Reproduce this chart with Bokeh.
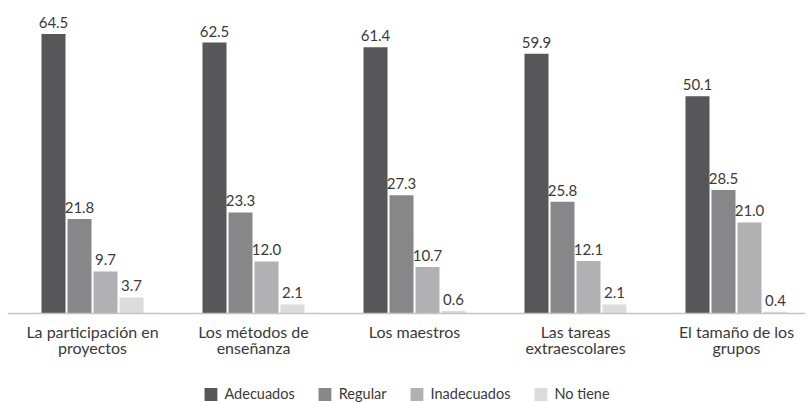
from bokeh.plotting import figure
from bokeh.models import Range1d, FixedTicker, Legend, LegendItem, ColumnDataSource, LinearAxis
from bokeh.core.properties import value
from bokeh.embed import file_html
from bokeh.resources import INLINE

categories = ["La participación en\nproyectos", "Los métodos de\nenseñanza", "Los maestros",
              "Las tareas\nextraescolares", "El tamaño de los\ngrupos"]
series_names = ["Adecuados", "Regular", "Inadecuados", "No tiene"]
adecuados = [64.5, 62.5, 61.4, 59.9, 50.1]
regular = [21.8, 23.3, 27.3, 25.8, 28.5]
inadecuados = [9.7, 12.0, 10.7, 12.1, 21.0]
no_tiene = [3.7, 2.1, 0.6, 2.1, 0.4]
colors = ["#575759", "#87878a", "#b1b1b4", "#dcdcdd"]

FONT = "Lato"
TXT = "#3a3a3a"

px_per_cat = 161.0
px_per_unit = 4.335
H = 402
p = figure(frame_width=798, frame_height=H,
           x_range=Range1d(-85 / px_per_cat, 4 + 69 / px_per_cat),
           y_range=Range1d(-(H - 313) / px_per_unit, 313 / px_per_unit),
           y_axis_location=None, x_axis_location=None,
           output_backend="svg", toolbar_location=None,
           min_border_top=0, min_border_left=7, min_border_right=0, min_border_bottom=0)
p.outline_line_color = None
p.xgrid.visible = False
p.ygrid.visible = False
p.background_fill_color = "white"

offsets = [-39 / px_per_cat, -13 / px_per_cat, 13 / px_per_cat, 39 / px_per_cat]
bar_w = 24 / px_per_cat
xs = list(range(len(categories)))
items = []
for name, vals, off, col in zip(series_names, [adecuados, regular, inadecuados, no_tiene], offsets, colors):
    src = ColumnDataSource(dict(x=[x + off for x in xs], top=vals, label=[f"{v:.1f}" for v in vals]))
    r = p.vbar(x="x", top="top", width=bar_w, bottom=0, source=src, fill_color=col, line_color=None)
    p.text(x="x", y="top", text="label", source=src, y_offset=-6, text_align="center",
           text_baseline="bottom", text_font=value(FONT), text_font_size="15px", text_color=TXT)
    items.append(LegendItem(label=name, renderers=[r]))

ax = LinearAxis(fixed_location=0)
ax.ticker = FixedTicker(ticks=xs)
ax.major_label_overrides = {i: c for i, c in enumerate(categories)}
ax.major_tick_line_color = None
ax.minor_tick_line_color = None
ax.axis_line_color = "#c4c4c4"
ax.axis_line_width = 1.5
ax.major_label_standoff = 2
ax.major_label_text_font = FONT
ax.major_label_text_font_size = "16px"
ax.major_label_text_line_height = 0.85
ax.major_label_text_color = TXT
p.add_layout(ax, "below")

legend = Legend(items=items, orientation="horizontal", location="bottom_center",
                glyph_width=16, glyph_height=16, label_standoff=6, spacing=22,
                label_text_font=FONT, label_text_font_size="14.5px", label_text_color=TXT,
                border_line_color=None, background_fill_alpha=0, padding=0, margin=0)
p.add_layout(legend, "center")

open("out.html", "w").write(file_html(p, INLINE))
